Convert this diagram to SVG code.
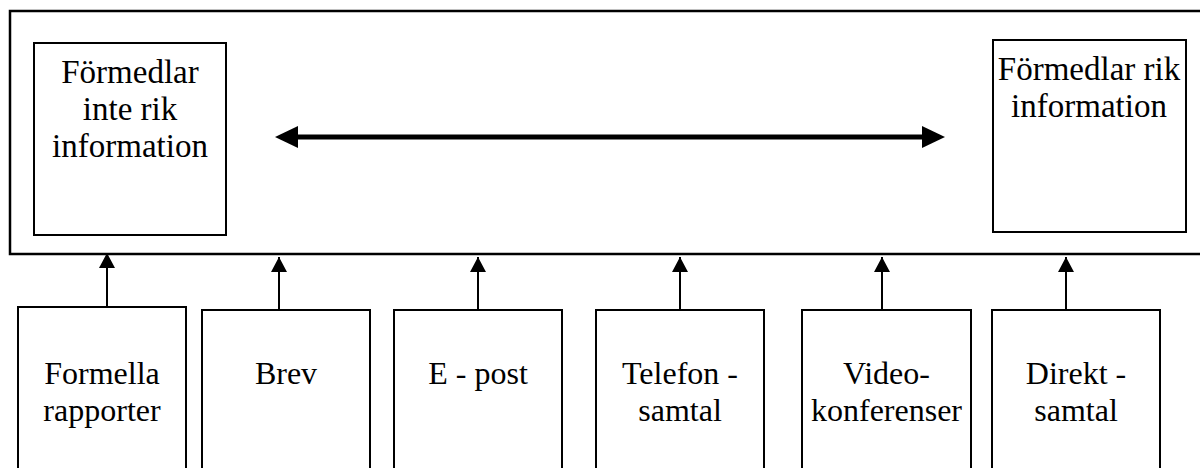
<svg xmlns="http://www.w3.org/2000/svg" width="1200" height="468" viewBox="0 0 1200 468">
  <style>
    .box { fill: #ffffff; stroke: #000000; stroke-width: 2; }
    .frame { fill: #ffffff; stroke: #000000; stroke-width: 2.5; }
    .label { font-family: "Liberation Serif", "Times New Roman", serif; font-size: 32px; fill: #000000; text-anchor: middle; }
    .head-label { font-size: 33px; }
    .up { stroke: #000000; stroke-width: 2; fill: none; marker-end: url(#head); }
    .range { stroke: #000000; stroke-width: 5; fill: none; }
  </style>
  <defs>
    <marker id="head" markerUnits="userSpaceOnUse" markerWidth="16" markerHeight="16" refX="15" refY="8" orient="auto">
      <path d="M0,0 L15,8 L0,16 Z" fill="#000000"/>
    </marker>
  </defs>

  <!-- outer frame (open to the right) -->
  <rect id="frame" class="frame" x="10" y="11" width="1210" height="243"/>

  <g id="node-poor">
    <rect class="box" x="34" y="43" width="192" height="192"/>
    <text class="label head-label" x="130" y="83">Förmedlar</text>
    <text class="label head-label" x="130" y="120">inte rik</text>
    <text class="label head-label" x="130" y="157">information</text>
  </g>

  <g id="node-rich">
    <rect class="box" x="993" y="40" width="193" height="192"/>
    <text class="label head-label" x="1089" y="80">Förmedlar rik</text>
    <text class="label head-label" x="1089" y="117">information</text>
  </g>

  <g id="connectors">
    <!-- richness scale -->
    <line class="range" x1="292" y1="137" x2="928" y2="137"/>
    <polygon points="275,137 298,126 298,148" fill="#000000"/>
    <polygon points="945,137 922,126 922,148" fill="#000000"/>
    <!-- channels into the frame -->
    <line class="up" x1="107" y1="307" x2="107" y2="253"/>
    <line class="up" x1="279" y1="310" x2="279" y2="257"/>
    <line class="up" x1="478" y1="310" x2="478" y2="257"/>
    <line class="up" x1="680" y1="310" x2="680" y2="257"/>
    <line class="up" x1="882" y1="310" x2="882" y2="257"/>
    <line class="up" x1="1066" y1="310" x2="1066" y2="257"/>
  </g>

  <g id="node-formella">
    <rect class="box" x="18" y="307" width="168" height="180"/>
    <text class="label" x="102" y="384">Formella</text>
    <text class="label" x="102" y="421">rapporter</text>
  </g>
  <g id="node-brev">
    <rect class="box" x="202" y="310" width="168" height="180"/>
    <text class="label" x="286" y="384">Brev</text>
  </g>
  <g id="node-epost">
    <rect class="box" x="394" y="310" width="168" height="180"/>
    <text class="label" x="478" y="384">E - post</text>
  </g>
  <g id="node-telefon">
    <rect class="box" x="596" y="310" width="168" height="180"/>
    <text class="label" x="680" y="384">Telefon -</text>
    <text class="label" x="680" y="421">samtal</text>
  </g>
  <g id="node-video">
    <rect class="box" x="802" y="310" width="169" height="180"/>
    <text class="label" x="886.5" y="384">Video-</text>
    <text class="label" x="886.5" y="421">konferenser</text>
  </g>
  <g id="node-direkt">
    <rect class="box" x="992" y="310" width="168" height="180"/>
    <text class="label" x="1076" y="384">Direkt -</text>
    <text class="label" x="1076" y="421">samtal</text>
  </g>
</svg>
